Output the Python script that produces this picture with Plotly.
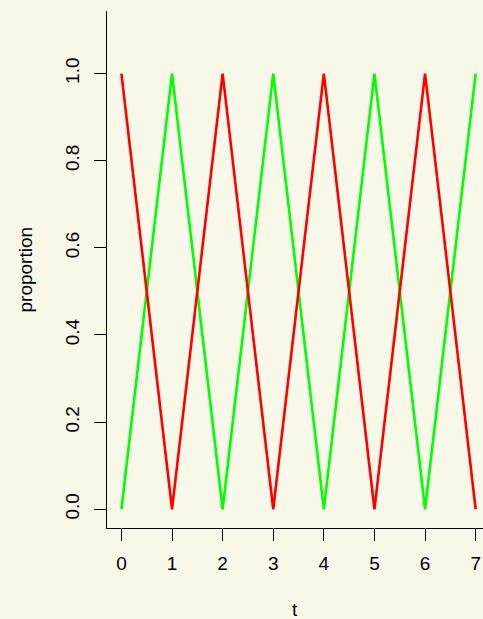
import plotly.graph_objects as go

t = [0, 1, 2, 3, 4, 5, 6, 7]
red_series = [1, 0, 1, 0, 1, 0, 1, 0]
green_series = [0, 1, 0, 1, 0, 1, 0, 1]
x_ticks = [0, 1, 2, 3, 4, 5, 6, 7]
y_ticks = [0.0, 0.2, 0.4, 0.6, 0.8, 1.0]
y_tick_labels = ["0.0", "0.2", "0.4", "0.6", "0.8", "1.0"]

bg = "#F8F8E9"
font = "Liberation Sans, Arial, sans-serif"

fig = go.Figure()
fig.add_trace(go.Scatter(x=t, y=green_series, mode="lines",
                         line=dict(color="#00FF00", width=2.6), showlegend=False))
fig.add_trace(go.Scatter(x=t, y=red_series, mode="lines",
                         line=dict(color="#FF0000", width=2.6), showlegend=False))

fig.update_layout(
    width=483, height=619,
    paper_bgcolor=bg, plot_bgcolor=bg,
    margin=dict(l=107, r=0, t=11, b=91),
    font=dict(family=font, size=19, color="black"),
    xaxis=dict(range=[-0.285, 7.145], tickvals=x_ticks, ticktext=[str(v) for v in x_ticks],
               showgrid=False, zeroline=False, showline=True, linecolor="black", linewidth=1,
               ticks="outside", ticklen=12, tickcolor="black", tickwidth=1,
               ticklabelstandoff=6, tickfont=dict(size=19)),
    yaxis=dict(range=[-0.043, 1.1436], tickvals=y_ticks, ticktext=y_tick_labels,
               showgrid=False, zeroline=False, showline=True, linecolor="black", linewidth=1,
               ticks="outside", ticklen=12, tickcolor="black", tickwidth=1,
               tickangle=-90, ticklabelstandoff=7, tickfont=dict(size=19)),
    annotations=[
        dict(text="t", xref="paper", yref="paper", x=0.5, y=0, yshift=-81,
             xanchor="center", yanchor="middle", showarrow=False, font=dict(size=19)),
        dict(text="proportion", xref="paper", yref="paper", x=0, y=0.5, xshift=-82,
             xanchor="center", yanchor="middle", textangle=-90, showarrow=False,
             font=dict(size=19)),
    ],
)

fig.write_html(
    "out.html",
    config={"displayModeBar": False},
    post_script="document.body.style.margin='0';document.body.style.overflow='hidden';"
                "document.body.style.background='" + bg + "';",
)
